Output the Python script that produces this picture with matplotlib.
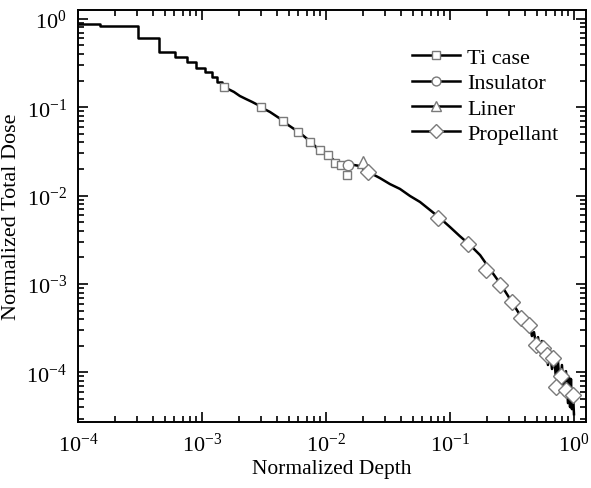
import matplotlib
matplotlib.use("Agg")
import matplotlib.pyplot as plt
from matplotlib.lines import Line2D
from matplotlib.ticker import LogLocator, NullFormatter

plt.rcParams["font.family"] = ["Liberation Serif", "DejaVu Serif"]
plt.rcParams["mathtext.fontset"] = "custom"
plt.rcParams["mathtext.rm"] = "Liberation Serif"
plt.rcParams["mathtext.it"] = "Liberation Serif:italic"

# shallow part of the dose-depth curve: coarse histogram steps
head_depth = [1.0e-4, 1.5e-4, 3.05e-4, 4.5e-4, 6.05e-4, 7.6e-4, 8.95e-4, 1.06e-3,
              1.2e-3, 1.32e-3, 1.45e-3]
head_dose = [0.877, 0.833, 0.61, 0.423, 0.371, 0.326, 0.279, 0.251,
             0.220, 0.194, 0.170]

# rest of the curve (fine bins, noisy near the end)
depth = [1.45e-3, 1.62e-3, 1.81e-3, 2.02e-3, 2.26e-3, 2.53e-3, 2.83e-3, 3.16e-3,
         3.53e-3, 3.95e-3, 4.42e-3, 4.94e-3, 5.52e-3, 6.17e-3, 6.9e-3, 7.71e-3,
         8.62e-3, 9.64e-3, 1.08e-2, 1.2e-2, 1.35e-2, 1.5e-2, 1.68e-2, 1.88e-2,
         2.1e-2, 2.35e-2, 2.72e-2, 3.28e-2, 3.95e-2, 4.76e-2, 5.73e-2, 6.9e-2,
         8.3e-2, 0.1, 0.12, 0.145, 0.175, 0.21, 0.253, 0.305, 0.367,
         0.410, 0.426, 0.442, 0.458, 0.476, 0.494, 0.513, 0.532, 0.552, 0.573,
         0.595, 0.617, 0.64, 0.665, 0.69, 0.716, 0.743, 0.77, 0.80, 0.83,
         0.862, 0.895, 0.911, 0.93, 0.946, 0.963, 0.98, 1.0]
dose = [0.170, 0.161, 0.149, 0.134, 0.124, 0.115, 0.106, 0.0957,
        0.0885, 0.0797, 0.0718, 0.0631, 0.0568, 0.0512, 0.0449, 0.0394,
        0.0337, 0.0312, 0.0274, 0.0240, 0.0228, 0.0222, 0.0222, 0.0216,
        0.019, 0.0176, 0.0158, 0.0135, 0.0119, 9.9e-3, 8.47e-3, 6.87e-3,
        5.57e-3, 4.41e-3, 3.48e-3, 2.76e-3, 2.12e-3, 1.47e-3, 1.02e-3, 6.75e-4, 4.45e-4,
        3.52e-4, 3.01e-4, 3.34e-4, 2.57e-4, 2.85e-4, 2.09e-4, 2.5e-4, 1.69e-4, 2.26e-4, 1.49e-4,
        2.03e-4, 1.21e-4, 1.74e-4, 1.09e-4, 1.53e-4, 8.6e-5, 1.34e-4, 6.8e-5, 1.21e-4, 5.52e-5,
        1.03e-4, 4.48e-5, 8.83e-5, 4.04e-5, 8.4e-5, 3.83e-5, 6.12e-5, 3.36e-5]

# marker positions for each region
ti_x = [1.5e-3, 2.99e-3, 4.5e-3, 5.94e-3, 7.43e-3, 8.95e-3, 1.04e-2, 1.18e-2, 1.32e-2, 1.48e-2]
ti_y = [0.170, 0.1007, 0.070, 0.0525, 0.0404, 0.0328, 0.0288, 0.0234, 0.0222, 0.0171]
ins_x = [1.5e-2]
ins_y = [0.0222]
liner_x = [1.99e-2]
liner_y = [0.024]
prop_x = [0.0218, 0.080, 0.140, 0.195, 0.253, 0.316, 0.374, 0.434, 0.494, 0.562,
          0.606, 0.677, 0.786, 0.716, 0.862, 0.98]
prop_y = [0.0185, 5.57e-3, 2.83e-3, 1.44e-3, 9.7e-4, 6.2e-4, 4.1e-4, 3.4e-4, 2.03e-4, 1.88e-4,
          1.57e-4, 1.45e-4, 9.06e-5, 6.8e-5, 6.3e-5, 5.5e-5]

labels = ["Ti case", "Insulator", "Liner", "Propellant"]
markers = ["s", "o", "^", "D"]
sizes = [6.2, 7.5, 8, 7.8]
edge = "#7a7a7a"

fig = plt.figure(figsize=(5.91, 4.89), dpi=100)
ax = fig.add_axes([0.132, 0.135, 0.8595, 0.8425])

ax.plot(head_depth, head_dose, color="black", lw=1.8, drawstyle="steps-post", zorder=2)
ax.plot(depth, dose, color="black", lw=1.8, zorder=2)

for (mx, my), m, s in zip([(ti_x, ti_y), (ins_x, ins_y), (liner_x, liner_y), (prop_x, prop_y)],
                          markers, sizes):
    ax.plot(mx, my, linestyle="none", marker=m, ms=s, mfc="white", mec=edge,
            mew=1.0, zorder=3)

ax.set_xscale("log")
ax.set_yscale("log")
ax.set_xlim(1e-4, 1.25)
ax.set_ylim(2.74e-5, 1.26)

ax.xaxis.set_major_locator(LogLocator(base=10, numticks=10))
ax.yaxis.set_major_locator(LogLocator(base=10, numticks=10))
ax.xaxis.set_minor_locator(LogLocator(base=10, subs=range(2, 10), numticks=20))
ax.yaxis.set_minor_locator(LogLocator(base=10, subs=range(2, 10), numticks=20))
ax.xaxis.set_minor_formatter(NullFormatter())
ax.yaxis.set_minor_formatter(NullFormatter())

ax.tick_params(which="both", direction="in", top=True, right=True, width=1.2,
               labelsize=16)
ax.tick_params(which="major", length=7, pad=8)
ax.tick_params(which="minor", length=4)
for sp in ax.spines.values():
    sp.set_linewidth(1.4)

ax.set_xlabel("Normalized Depth", fontsize=15.5, labelpad=2)
ax.set_ylabel("Normalized Total Dose", fontsize=16, labelpad=4)

handles = [Line2D([], [], color="black", lw=1.8, marker=m, ms=s * 0.85, mfc="white",
                  mec=edge, mew=1.0) for m, s in zip(markers, sizes)]
ax.legend(handles, labels, loc="upper right", frameon=False, fontsize=16,
          handlelength=2.2, handletextpad=0.3, labelspacing=0.21,
          bbox_to_anchor=(0.985, 0.957))

fig.savefig("out.png", dpi=100)
